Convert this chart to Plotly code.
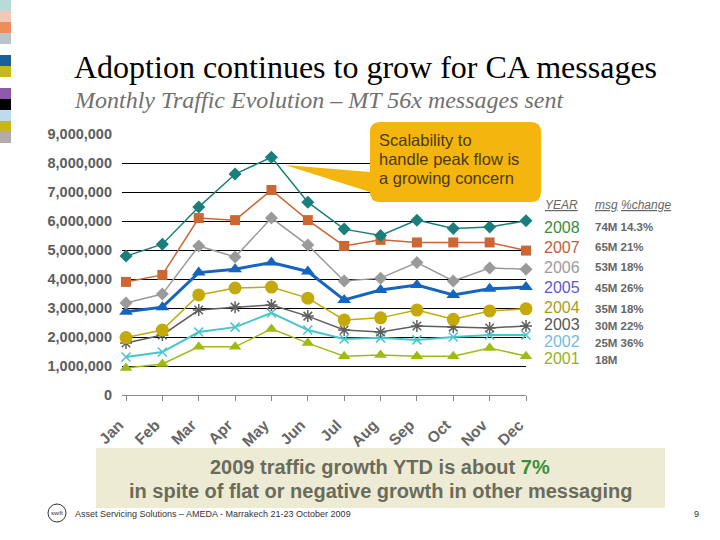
import plotly.graph_objects as go

months = ["Jan", "Feb", "Mar", "Apr", "May", "Jun", "Jul", "Aug", "Sep", "Oct", "Nov", "Dec"]

v2008 = [4.79, 5.2, 6.48, 7.62, 8.2, 6.65, 5.72, 5.5, 6.03, 5.74, 5.79, 6.01]
v2007 = [3.9, 4.14, 6.1, 6.03, 7.07, 6.03, 5.14, 5.35, 5.26, 5.26, 5.26, 4.98]
v2006 = [3.17, 3.48, 5.14, 4.76, 6.1, 5.17, 3.93, 4.03, 4.57, 3.93, 4.38, 4.34]
v2005 = [2.87, 3.03, 4.22, 4.34, 4.57, 4.26, 3.28, 3.62, 3.79, 3.45, 3.66, 3.72]
v2004 = [1.98, 2.24, 3.45, 3.69, 3.72, 3.34, 2.59, 2.66, 2.93, 2.61, 2.9, 2.97]
v2003 = [1.79, 2.07, 2.93, 3.03, 3.1, 2.72, 2.24, 2.17, 2.38, 2.34, 2.31, 2.38]
v2002 = [1.31, 1.48, 2.17, 2.34, 2.83, 2.24, 1.93, 1.97, 1.9, 2.0, 2.07, 2.07]
v2001 = [0.93, 1.07, 1.66, 1.66, 2.28, 1.79, 1.34, 1.38, 1.34, 1.34, 1.62, 1.34]

years = ["2008", "2007", "2006", "2005", "2004", "2003", "2002", "2001"]
msgs = ["74M 14.3%", "65M 21%", "53M 18%", "45M 26%", "35M 18%", "30M 22%", "25M 36%", "18M"]

y_ticks = [0, 1e6, 2e6, 3e6, 4e6, 5e6, 6e6, 7e6, 8e6, 9e6]
y_ticktext = ["0", "1,000,000", "2,000,000", "3,000,000", "4,000,000", "5,000,000",
              "6,000,000", "7,000,000", "8,000,000", "9,000,000"]

series = [
    ("2001", v2001, "#9dbb12", "triangle-up", 11, 1.5),
    ("2002", v2002, "#45c6cc", "x-thin-open", 9, 2),
    ("2003", v2003, "#5f5f5f", "asterisk-open", 10, 1.5),
    ("2004", v2004, "#c3aa08", "circle", 13, 1.5),
    ("2005", v2005, "#1565c0", "triangle-up", 12, 3),
    ("2006", v2006, "#9a9a9a", "diamond", 10, 1.5),
    ("2007", v2007, "#cc6633", "square", 10, 1.5),
    ("2008", v2008, "#1a7f7a", "diamond", 10, 1.5),
]

W, H = 720, 540
L, R, T, B = 122, 526, 134, 395


def px(x):
    return (x - L) / (R - L)


def py(y):
    return (B - y) / (B - T)


fig = go.Figure()
for name, vals, col, sym, ms, lw in series:
    fig.add_trace(go.Scatter(
        x=list(range(len(months))), y=[v * 1e6 for v in vals], name=name,
        mode="lines+markers",
        line=dict(color=col, width=lw),
        marker=dict(symbol=sym, size=ms, color=col, line=dict(color=col, width=1.5 if "open" in sym else 0)),
        cliponaxis=False, showlegend=False,
    ))

shapes = []
# decorative colour squares at the left edge
sq_colors = ["#b5dcd8", "#f6c6b6", "#f08b5c", "#b9c4c8", None, "#1b5e99", "#c9b51c", None,
             "#8c5aa8", "#000000", "#bcdcec", "#c9b51e", "#b1aba9"]
for i, c in enumerate(sq_colors):
    if c is None:
        continue
    shapes.append(dict(type="rect", xref="paper", yref="paper",
                       x0=px(0), x1=px(11), y0=py(i * 11 + 11), y1=py(i * 11),
                       fillcolor=c, line=dict(width=0), layer="above"))

# callout bubble
r = 10
x0c, x1c, y0c, y1c = 370, 541, 122, 202
path = (f"M {px(x0c + r)},{py(y0c)} L {px(x1c - r)},{py(y0c)} "
        f"Q {px(x1c)},{py(y0c)} {px(x1c)},{py(y0c + r)} "
        f"L {px(x1c)},{py(y1c - r)} Q {px(x1c)},{py(y1c)} {px(x1c - r)},{py(y1c)} "
        f"L {px(x0c + r)},{py(y1c)} Q {px(x0c)},{py(y1c)} {px(x0c)},{py(y1c - r)} "
        f"L {px(x0c)},{py(192)} L {px(285)},{py(165)} L {px(x0c)},{py(172)} "
        f"L {px(x0c)},{py(y0c + r)} Q {px(x0c)},{py(y0c)} {px(x0c + r)},{py(y0c)} Z")
shapes.append(dict(type="path", xref="paper", yref="paper", path=path,
                   fillcolor="#f5b50f", line=dict(width=0), layer="above"))

# bottom message box
shapes.append(dict(type="rect", xref="paper", yref="paper",
                   x0=px(96), x1=px(665), y0=py(508), y1=py(448),
                   fillcolor="#edebd4", line=dict(width=0), layer="below"))

# footer logo
shapes.append(dict(type="circle", xref="paper", yref="paper",
                   x0=px(48), x1=px(66), y0=py(522), y1=py(504),
                   line=dict(color="#333333", width=1), fillcolor="white", layer="above"))

annotations = []


def ann(x, y, text, size, color, family="Arial, Liberation Sans, sans-serif", xanchor="left", yanchor="middle", **kw):
    annotations.append(dict(xref="paper", yref="paper", x=px(x), y=py(y), text=text,
                            showarrow=False, xanchor=xanchor, yanchor=yanchor,
                            font=dict(size=size, color=color, family=family), **kw))


ann(72, 67, "Adoption continues to grow for CA messages", 32, "#000000",
    family="Liberation Serif, Times New Roman, serif")
ann(72, 100, "<i>Monthly Traffic Evolution – MT 56x messages sent</i>", 24, "#707070",
    family="Liberation Serif, Times New Roman, serif")

for txt, yy in zip(["Scalability to", "handle peak flow is", "a growing concern"], [140, 159, 178]):
    ann(377, yy, txt, 16.5, "#4a3a00")

ann(543, 205, "<i><u>YEAR</u></i>", 12, "#666666")
ann(593, 205, "<i><u>msg</u> <u>%change</u></i>", 12, "#666666")

year_colors = ["#3b8c3b", "#c0603a", "#9c9c9c", "#5a5ac8", "#a89e1c", "#555555", "#74bce0", "#93b31e"]
year_y = [227, 247, 267, 287, 307, 324, 341, 358]
msg_y = [227, 247, 267, 288, 309, 326, 343, 360]
for yr, m, c, yy, my in zip(years, msgs, year_colors, year_y, msg_y):
    ann(542, yy, yr, 16, c)
    ann(593, my, f"<b>{m}</b>", 11.5, "#666666")

ann(380, 467, "<b>2009 traffic growth YTD is about <span style='color:#3d8f3d'>7%</span></b>", 20,
    "#6b6b5c", xanchor="center")
ann(380, 491, "<b>in spite of flat or negative growth in other messaging</b>", 20,
    "#6b6b5c", xanchor="center")

ann(73, 514, "Asset Servicing Solutions – AMEDA - Marrakech 21-23 October 2009", 9, "#333333")
ann(692, 514, "9", 9, "#333333")
ann(57, 513, "swift", 6, "#333333", xanchor="center")

fig.update_layout(
    width=W, height=H,
    margin=dict(l=L, r=W - R, t=T, b=H - B, pad=0),
    paper_bgcolor="white", plot_bgcolor="white",
    shapes=shapes, annotations=annotations,
    xaxis=dict(range=[-0.11, 11.0], tickvals=list(range(12)), ticktext=months,
               tickangle=-45, showgrid=False, zeroline=False,
               showline=True, linecolor="#888888", linewidth=1,
               ticks="outside", ticklen=5, tickcolor="#888888",
               ticklabelshift=-7, ticklabelstandoff=9,
               tickfont=dict(family="Arial, Liberation Sans, sans-serif", size=15.5, color="#666666",
                             weight="bold")),
    yaxis=dict(range=[0, 9e6], tickvals=y_ticks, ticktext=y_ticktext,
               showgrid=True, gridcolor="#000000", gridwidth=1, zeroline=False,
               showline=False, ticks="", ticklabelstandoff=9,
               tickfont=dict(family="Arial, Liberation Sans, sans-serif", size=14.5, color="#5c5c5c",
                             weight="bold")),
)

fig.write_html("out.html", post_script="document.body.style.margin='0';",
               config={"displayModeBar": False})
